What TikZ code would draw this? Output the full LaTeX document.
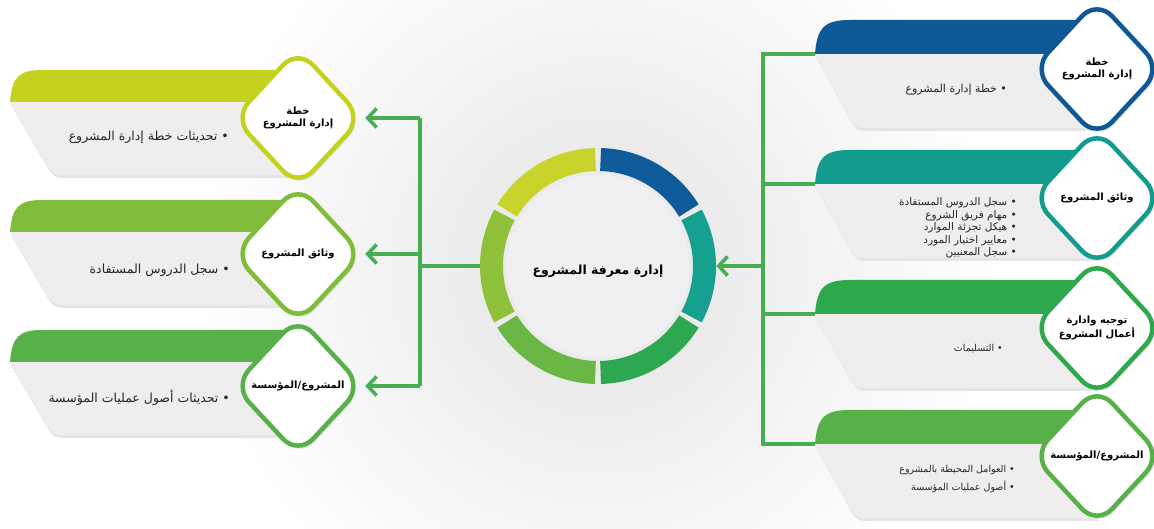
\documentclass[tikz,border=0pt]{standalone}
\usepackage{fontspec}
\usepackage{xcolor}
\usepackage{tikz}
\usetikzlibrary{positioning,shapes.geometric,arrows.meta}
\newfontfamily\arabicfont[Script=Arabic]{DejaVu Sans}
\TeXXeTstate=1

\definecolor{hdrLa}{HTML}{C4D21F}
\definecolor{hdrLb}{HTML}{7EBC3A}
\definecolor{hdrLc}{HTML}{57B148}
\definecolor{hdrRa}{HTML}{0E5896}
\definecolor{hdrRb}{HTML}{139C8D}
\definecolor{hdrRc}{HTML}{2EA84D}
\definecolor{hdrRd}{HTML}{58B148}
\definecolor{segyellow}{HTML}{C8D42B}
\definecolor{seglime}{HTML}{8FC13B}
\definecolor{segleaf}{HTML}{6BB745}
\definecolor{seggreen}{HTML}{2EA850}
\definecolor{segteal}{HTML}{15A08F}
\definecolor{segblue}{HTML}{0F5B99}
\definecolor{linkgreen}{HTML}{46AD50}
\definecolor{boxgray}{HTML}{EFEDED}
\definecolor{innergray}{HTML}{F0F0F2}

\begin{document}
\begin{tikzpicture}[x=1pt, y=1pt,
  body/.style={fill=boxgray, preaction={fill=black!10, transform canvas={xshift=1pt, yshift=-3pt}}},
  diam/.style={diamond, fill=white, line width=4.5pt, rounded corners=22pt, minimum width=130pt, minimum height=140pt, inner sep=0pt, align=center, font=\arabicfont\bfseries\fontsize{10}{11.5}\selectfont, preaction={fill=black!12, transform canvas={xshift=2pt, yshift=-3pt}}},
  item/.style={anchor=east, align=right, text=black!85, inner sep=0pt, font=\arabicfont\fontsize{12.5}{14}\selectfont},
  hubtext/.style={inner sep=0pt, font=\arabicfont\bfseries\fontsize{12.5}{14}\selectfont},
  link/.style={draw=linkgreen, line width=3.5pt},
  arr/.style={link, -{Straight Barb[length=9pt, width=19pt]}}]

\useasboundingbox (0,0) rectangle (1154,529);
\begin{scope}
\clip (0,0) rectangle (1154,529);
\fill[white] (0,0) rectangle (1154,529);
\shade[inner color=black!11, outer color=white] (598,263) circle (400);
\end{scope}

\foreach \n/\t/\c in {1/459/hdrLa, 2/329/hdrLb, 3/199/hdrLc}{
  \fill[body] (10,\t-32) -- (48,\t-97) .. controls (52,\t-103) and (55,\t-105) .. (62,\t-105) -- (295,\t-105) -- (295,\t-32) -- cycle;
  \fill[\c] (10,\t-32) .. controls (12,\t-8) and (18,\t) .. (42,\t) -- (295,\t) -- (295,\t-32) -- cycle;
}
\foreach \n/\t/\c in {1/509/hdrRa, 2/379/hdrRb, 3/249/hdrRc, 4/119/hdrRd}{
  \fill[body] (815,\t-34) -- (851,\t-100) .. controls (855,\t-106) and (858,\t-108) .. (865,\t-108) -- (1097,\t-108) -- (1097,\t-34) -- cycle;
  \fill[\c] (815,\t-34) .. controls (817,\t-8) and (824,\t) .. (850,\t) -- (1097,\t) -- (1097,\t-34) -- cycle;
  \coordinate (bR\n) at (815,\t-34);
}

\node[diam, draw=hdrLa] (dL1) at (298,411) {\beginR خطة\endR\\\beginR إدارة المشروع\endR};
\node[diam, draw=hdrLb] (dL2) at (298,275) {\beginR وثائق المشروع\endR};
\node[diam, draw=hdrLc] (dL3) at (298,143) {\beginR المشروع/المؤسسة\endR};
\node[diam, draw=hdrRa] (dR1) at (1097,460) {\beginR خطة\endR\\\beginR إدارة المشروع\endR};
\node[diam, draw=hdrRb] (dR2) at (1097,331) {\beginR وثائق المشروع\endR};
\node[diam, draw=hdrRc] (dR3) at (1097,201) {\beginR توجيه وادارة\endR\\\beginR أعمال المشروع\endR};
\node[diam, draw=hdrRd] (dR4) at (1097,73) {\beginR المشروع/المؤسسة\endR};

\node[item] (iL1) at (229,392) {\beginR • تحديثات خطة إدارة المشروع\endR};
\node[item] (iL2) at (230,259) {\beginR • سجل الدروس المستفادة\endR};
\node[item] (iL3) at (230,131) {\beginR • تحديثات أصول عمليات المؤسسة\endR};
\node[item, font=\arabicfont\fontsize{11}{13}\selectfont] (iR1) at (1007,439) {\beginR • خطة إدارة المشروع\endR};
\node[item, font=\arabicfont\fontsize{10.5}{12.5}\selectfont] (iR2) at (1017,301) {\beginR • سجل الدروس المستفادة\endR\\\beginR • مهام فريق الشروع\endR\\\beginR • هيكل تجزئة الموارد\endR\\\beginR • معايير اختيار المورد\endR\\\beginR • سجل المعنيين\endR};
\node[item, font=\arabicfont\fontsize{9.5}{11}\selectfont] (iR3) at (1003,180) {\beginR • التسليمات\endR};
\node[item, font=\arabicfont\fontsize{9.5}{18}\selectfont] (iR4) at (1015,50) {\beginR • العوامل المحيطة بالمشروع\endR\\\beginR • أصول عمليات المؤسسة\endR};

\node[circle, minimum size=236pt, inner sep=0pt] (ring) at (598,263) {};
\fill[innergray, draw=black!8, line width=3pt] (ring.center) circle (93);
\foreach \a/\c in {30/segblue, -30/segteal, -90/seggreen, -150/segleaf, 150/seglime, 90/segyellow}
  \draw[\c, line width=23pt] ([shift={(\a+1.4:106.5)}]ring.center) arc[start angle=\a+1.4, end angle=\a+58.6, radius=106.5];
\node[hubtext, below=-1pt of ring.center] (hub) {\beginR إدارة معرفة المشروع\endR};

\coordinate (jL) at (420,0);
\coordinate (jR) at (763,0);
\draw[link] (ring.west) -- (ring.west -| jL);
\draw[link] (dL1.east -| jL) -- (dL3.east -| jL);
\foreach \n in {1,2,3}
  \draw[arr] (dL\n.east -| jL) -- (dL\n.east);
\draw[link] (bR1) -- (bR1 -| jR) -- (bR4 -| jR) -- (bR4);
\draw[link] (bR2) -- (bR2 -| jR);
\draw[link] (bR3) -- (bR3 -| jR);
\draw[arr] (ring.east -| jR) -- (ring.east);

\end{tikzpicture}
\end{document}
